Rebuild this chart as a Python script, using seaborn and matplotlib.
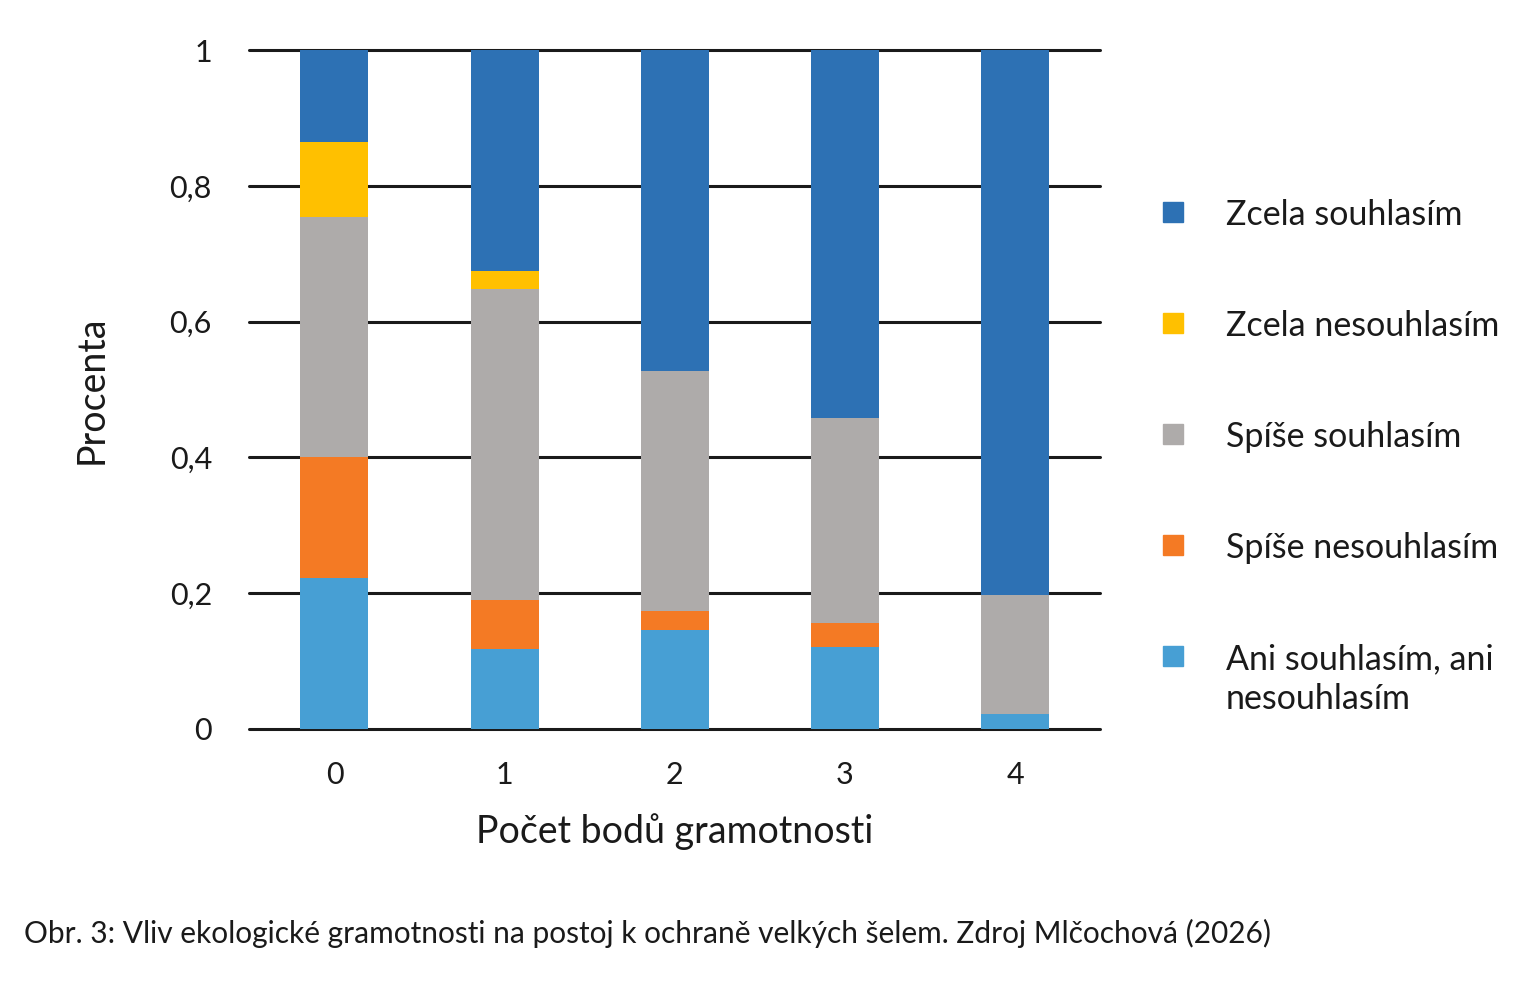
import matplotlib
matplotlib.use("Agg")
import matplotlib.pyplot as plt
from matplotlib.patches import Rectangle
import seaborn as sns
import pandas as pd

# data (shares, stacked bottom -> top)
body = ["0", "1", "2", "3", "4"]
ani = [0.222, 0.118, 0.146, 0.121, 0.022]
spise_nes = [0.178, 0.071, 0.027, 0.035, 0.0]
spise_sou = [0.354, 0.459, 0.354, 0.302, 0.175]
zcela_nes = [0.110, 0.027, 0.0, 0.0, 0.0]
zcela_sou = [0.136, 0.325, 0.473, 0.542, 0.803]

layers = [
    ("Ani souhlasím, ani\nnesouhlasím", ani, "#479fd4"),
    ("Spíše nesouhlasím", spise_nes, "#f47a24"),
    ("Spíše souhlasím", spise_sou, "#aeabaa"),
    ("Zcela nesouhlasím", zcela_nes, "#ffc000"),
    ("Zcela souhlasím", zcela_sou, "#2d71b4"),
]

sns.set_theme(style="white")
plt.rcParams['font.family'] = ['Lato', 'DejaVu Sans']

fig = plt.figure(figsize=(15.3, 9.82), dpi=100)
ax = fig.add_axes([0.163, 0.258, 0.556, 0.691])

for yv in [0, 0.2, 0.4, 0.6, 0.8, 1.0]:
    ax.axhline(yv, color="#1a1a1a", lw=2.2, zorder=0, clip_on=False)

bottom = [0.0] * len(body)
for name, vals, col in layers:
    df = pd.DataFrame({"body": body, "val": vals})
    sns.barplot(data=df, x="body", y="val", color=col, width=0.4,
                bottom=bottom, ax=ax, saturation=1, zorder=2, linewidth=0)
    bottom = [b + v for b, v in zip(bottom, vals)]

ax.set_xlim(-0.5, 4.5)
ax.set_ylim(0, 1.0)
ax.set_yticks([0, 0.2, 0.4, 0.6, 0.8, 1.0])
ax.set_yticklabels(["0", "0,2", "0,4", "0,6", "0,8", "1"])
for s in ax.spines.values():
    s.set_visible(False)
ax.tick_params(axis="both", length=0, labelsize=22, colors="#1a1a1a")
ax.tick_params(axis="y", pad=27)
ax.tick_params(axis="x", pad=23)
ax.set_xlabel("Počet bodů gramotnosti", fontsize=27, labelpad=18, color="#1a1a1a")
ax.set_ylabel("Procenta", fontsize=27, labelpad=43, color="#1a1a1a")

# legend, top to bottom
leg_y = [212, 323, 434, 545, 656]
for (name, vals, col), py in zip(layers[::-1], leg_y):
    fy = 1 - py / 982
    fig.add_artist(Rectangle((1163 / 1530, fy - 10 / 982), 20 / 1530, 20 / 982,
                             color=col, transform=fig.transFigure))
    fig.text(1226 / 1530, fy + 13 / 982, name, fontsize=24.5, va="top",
             ha="left", color="#1a1a1a", linespacing=1.3)

fig.text(24 / 1530, 1 - 933 / 982,
         "Obr. 3: Vliv ekologické gramotnosti na postoj k ochraně velkých šelem. Zdroj Mlčochová (2026)",
         fontsize=21.5, va="center", ha="left", color="#1a1a1a")

fig.savefig("out.png", dpi=100)
